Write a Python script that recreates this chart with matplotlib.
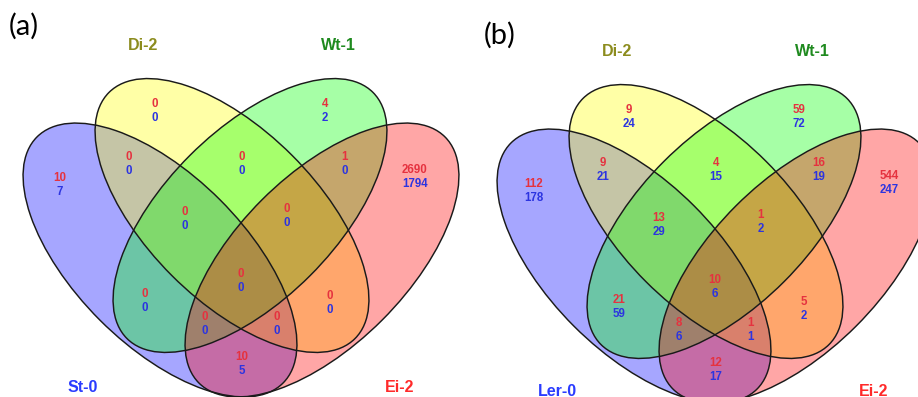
import matplotlib
matplotlib.use("Agg")
import matplotlib.pyplot as plt
from matplotlib.patches import Ellipse

# ---------------- data ----------------
panel_titles = ["(a)", "(b)"]
set_names_a = ["St-0", "Di-2", "Wt-1", "Ei-2"]
set_names_b = ["Ler-0", "Di-2", "Wt-1", "Ei-2"]

# region order:
regions = ["S", "D", "W", "E", "SD", "DW", "WE", "SDW", "DWE", "SW",
           "SDWE", "DE", "SWE", "SDE", "SE"]
# red (upper) and blue (lower) counts per region
red_a = [10, 0, 4, 2690, 0, 0, 1, 0, 0, 0, 0, 0, 0, 0, 10]
blue_a = [7, 0, 2, 1794, 0, 0, 0, 0, 0, 0, 0, 0, 0, 0, 5]
red_b = [112, 9, 59, 544, 9, 4, 16, 13, 1, 21, 10, 5, 8, 1, 12]
blue_b = [178, 24, 72, 247, 21, 15, 19, 29, 2, 59, 6, 2, 6, 1, 17]

# ---------------- layout (pixels, panel a frame) ----------------
W, H = 918, 397
label_pos = {
    "S": (60, 178), "D": (155, 104), "W": (325, 104), "E": (415, 170),
    "SD": (129, 157), "DW": (242, 157), "WE": (345, 157),
    "SDW": (185, 212), "DWE": (287, 209), "SW": (145, 294),
    "SDWE": (241, 274), "DE": (330, 296), "SWE": (205, 317),
    "SDE": (277, 317), "SE": (242, 357),
}
# ellipses: center, semi-axes, angle (data coords with inverted y)
ell_a, ell_b = 174, 85
ellipses = [
    ((160, 260), 45, (0, 0, 1.0)),      # St/Ler - blue
    ((232, 215.5), 45, (1.0, 1.0, 0)),  # Di - yellow
    ((250, 215.5), -45, (0, 1.0, 0)),   # Wt - green
    ((322, 260), -45, (1.0, 0, 0)),     # Ei - red
]
name_pos = [(83, 387), (143, 46), (338, 46), (400, 387)]
name_colors = ["#2a3cff", "#8c8c1e", "#1f8a1f", "#ff2a2a"]
red_col = "#e5323f"
blue_col = "#2c34e0"

panels = [
    dict(dx=0, dy=0, title_xy=(9, 26), names=set_names_a, red=red_a, blue=blue_a,
         name_dy=0),
    dict(dx=474, dy=6, title_xy=(484, 35), names=set_names_b, red=red_b, blue=blue_b,
         name_dy=5),
]

fig = plt.figure(figsize=(W / 100, H / 100), dpi=100)
ax = fig.add_axes([0, 0, 1, 1])
ax.set_xlim(0, W)
ax.set_ylim(H, 0)
ax.axis("off")

num_font = dict(family=["Liberation Sans", "DejaVu Sans"], fontsize=8.3,
                fontweight="bold", ha="center", va="center")

for i, p in enumerate(panels):
    dx, dy = p["dx"], p["dy"]
    for (c, ang, col) in ellipses:
        ax.add_patch(Ellipse((c[0] + dx, c[1] + dy), 2 * ell_a, 2 * ell_b, angle=ang,
                             facecolor=col + (0.35,), edgecolor="none"))
    for (c, ang, col) in ellipses:
        ax.add_patch(Ellipse((c[0] + dx, c[1] + dy), 2 * ell_a, 2 * ell_b, angle=ang,
                             facecolor="none", edgecolor="#1a1a1a", lw=1.05))
    for r, rv, bv in zip(regions, p["red"], p["blue"]):
        x, y = label_pos[r]
        ax.text(x + dx, y + dy, str(rv), color=red_col, **num_font)
        ax.text(x + dx, y + dy + 14, str(bv), color=blue_col, **num_font)
    for (nx, ny), nm, nc in zip(name_pos, p["names"], name_colors):
        ax.text(nx + dx, ny + p["name_dy"] if ny < 200 else ny + min(p["name_dy"], 4),
                nm, color=nc, fontsize=11.5, fontweight="bold",
                family=["Liberation Sans", "DejaVu Sans"], ha="center", va="center")
    tx, ty = p["title_xy"]
    ax.text(tx, ty, panel_titles[i], fontsize=21, family=["Lato", "DejaVu Sans"],
            ha="left", va="center", color="black")

fig.savefig("out.png", dpi=100)
